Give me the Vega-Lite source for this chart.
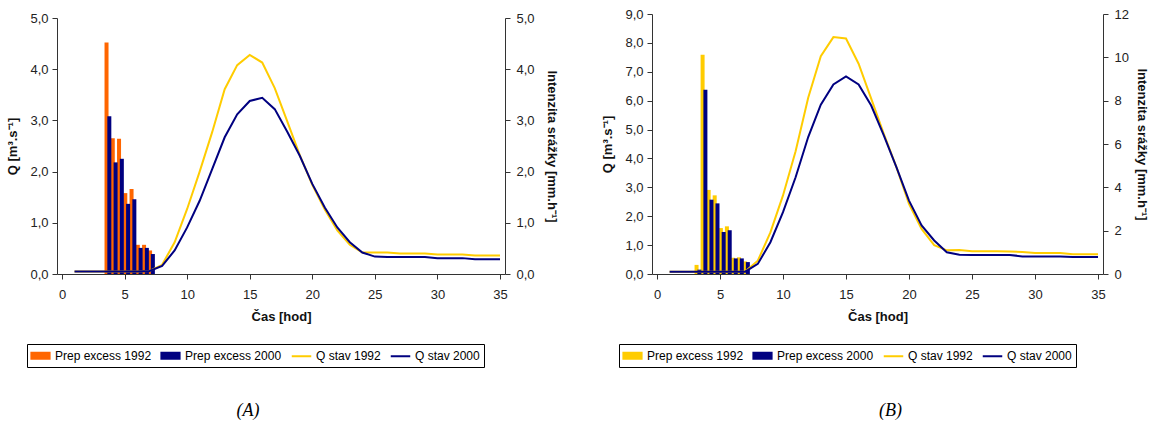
{
  "$schema": "https://vega.github.io/schema/vega-lite/v6.json",
  "padding": {"left": 6, "top": 8, "right": 0, "bottom": 0},
  "background": "white",
  "spacing": 43,
  "config": {
    "view": {"stroke": null},
    "font": "Liberation Sans",
    "axis": {"grid": false, "domainColor": "#333333", "tickColor": "#333333", "labelColor": "#222222", "labelFont": "Liberation Sans", "labelFontSize": 13, "titleFont": "Liberation Sans", "titleFontSize": 13, "titleFontWeight": "bold", "titleColor": "#111111", "tickSize": 5}
  },
  "datasets": {
    "barsA": [
      {"t": 3.67, "series": "Prep excess 1992", "v": 4.52}, {"t": 3.67, "series": "Prep excess 2000", "v": 3.08},
      {"t": 4.17, "series": "Prep excess 1992", "v": 2.65}, {"t": 4.17, "series": "Prep excess 2000", "v": 2.18},
      {"t": 4.67, "series": "Prep excess 1992", "v": 2.64}, {"t": 4.67, "series": "Prep excess 2000", "v": 2.25},
      {"t": 5.17, "series": "Prep excess 1992", "v": 1.58}, {"t": 5.17, "series": "Prep excess 2000", "v": 1.37},
      {"t": 5.67, "series": "Prep excess 1992", "v": 1.66}, {"t": 5.67, "series": "Prep excess 2000", "v": 1.46},
      {"t": 6.17, "series": "Prep excess 1992", "v": 0.57}, {"t": 6.17, "series": "Prep excess 2000", "v": 0.51},
      {"t": 6.67, "series": "Prep excess 1992", "v": 0.57}, {"t": 6.67, "series": "Prep excess 2000", "v": 0.51},
      {"t": 7.15, "series": "Prep excess 1992", "v": 0.46}, {"t": 7.15, "series": "Prep excess 2000", "v": 0.39}
    ],
    "barsB": [
      {"t": 3.25, "series": "Prep excess 1992", "v": 0.42}, {"t": 3.25, "series": "Prep excess 2000", "v": 0.2},
      {"t": 3.73, "series": "Prep excess 1992", "v": 10.12}, {"t": 3.73, "series": "Prep excess 2000", "v": 8.5},
      {"t": 4.21, "series": "Prep excess 1992", "v": 3.88}, {"t": 4.21, "series": "Prep excess 2000", "v": 3.43},
      {"t": 4.69, "series": "Prep excess 1992", "v": 3.63}, {"t": 4.69, "series": "Prep excess 2000", "v": 3.26},
      {"t": 5.18, "series": "Prep excess 1992", "v": 2.12}, {"t": 5.18, "series": "Prep excess 2000", "v": 1.94},
      {"t": 5.66, "series": "Prep excess 1992", "v": 2.2}, {"t": 5.66, "series": "Prep excess 2000", "v": 2.02},
      {"t": 6.14, "series": "Prep excess 1992", "v": 0.75}, {"t": 6.14, "series": "Prep excess 2000", "v": 0.72},
      {"t": 6.62, "series": "Prep excess 1992", "v": 0.77}, {"t": 6.62, "series": "Prep excess 2000", "v": 0.72},
      {"t": 7.1, "series": "Prep excess 1992", "v": 0.58}, {"t": 7.1, "series": "Prep excess 2000", "v": 0.55}
    ],
    "linesA": [
      {"t": 1, "series": "Q stav 1992", "q": 0.05}, {"t": 2, "series": "Q stav 1992", "q": 0.05}, {"t": 3, "series": "Q stav 1992", "q": 0.05}, {"t": 4, "series": "Q stav 1992", "q": 0.05}, {"t": 5, "series": "Q stav 1992", "q": 0.05}, {"t": 6, "series": "Q stav 1992", "q": 0.05}, {"t": 7, "series": "Q stav 1992", "q": 0.06},
      {"t": 8, "series": "Q stav 1992", "q": 0.18}, {"t": 9, "series": "Q stav 1992", "q": 0.62}, {"t": 10, "series": "Q stav 1992", "q": 1.27}, {"t": 11, "series": "Q stav 1992", "q": 2.0}, {"t": 12, "series": "Q stav 1992", "q": 2.77}, {"t": 13, "series": "Q stav 1992", "q": 3.61}, {"t": 14, "series": "Q stav 1992", "q": 4.08},
      {"t": 15, "series": "Q stav 1992", "q": 4.28}, {"t": 16, "series": "Q stav 1992", "q": 4.13}, {"t": 17, "series": "Q stav 1992", "q": 3.63}, {"t": 18, "series": "Q stav 1992", "q": 2.98}, {"t": 19, "series": "Q stav 1992", "q": 2.32}, {"t": 20, "series": "Q stav 1992", "q": 1.74}, {"t": 21, "series": "Q stav 1992", "q": 1.26},
      {"t": 22, "series": "Q stav 1992", "q": 0.85}, {"t": 23, "series": "Q stav 1992", "q": 0.57}, {"t": 24, "series": "Q stav 1992", "q": 0.42}, {"t": 25, "series": "Q stav 1992", "q": 0.42}, {"t": 26, "series": "Q stav 1992", "q": 0.42}, {"t": 27, "series": "Q stav 1992", "q": 0.4}, {"t": 28, "series": "Q stav 1992", "q": 0.4},
      {"t": 29, "series": "Q stav 1992", "q": 0.4}, {"t": 30, "series": "Q stav 1992", "q": 0.38}, {"t": 31, "series": "Q stav 1992", "q": 0.38}, {"t": 32, "series": "Q stav 1992", "q": 0.38}, {"t": 33, "series": "Q stav 1992", "q": 0.36}, {"t": 34, "series": "Q stav 1992", "q": 0.36}, {"t": 35, "series": "Q stav 1992", "q": 0.36},
      {"t": 1, "series": "Q stav 2000", "q": 0.05}, {"t": 2, "series": "Q stav 2000", "q": 0.05}, {"t": 3, "series": "Q stav 2000", "q": 0.05}, {"t": 4, "series": "Q stav 2000", "q": 0.05}, {"t": 5, "series": "Q stav 2000", "q": 0.05}, {"t": 6, "series": "Q stav 2000", "q": 0.05}, {"t": 7, "series": "Q stav 2000", "q": 0.06},
      {"t": 8, "series": "Q stav 2000", "q": 0.16}, {"t": 9, "series": "Q stav 2000", "q": 0.46}, {"t": 10, "series": "Q stav 2000", "q": 0.91}, {"t": 11, "series": "Q stav 2000", "q": 1.43}, {"t": 12, "series": "Q stav 2000", "q": 2.05}, {"t": 13, "series": "Q stav 2000", "q": 2.67}, {"t": 14, "series": "Q stav 2000", "q": 3.12},
      {"t": 15, "series": "Q stav 2000", "q": 3.38}, {"t": 16, "series": "Q stav 2000", "q": 3.44}, {"t": 17, "series": "Q stav 2000", "q": 3.22}, {"t": 18, "series": "Q stav 2000", "q": 2.78}, {"t": 19, "series": "Q stav 2000", "q": 2.31}, {"t": 20, "series": "Q stav 2000", "q": 1.76}, {"t": 21, "series": "Q stav 2000", "q": 1.3},
      {"t": 22, "series": "Q stav 2000", "q": 0.91}, {"t": 23, "series": "Q stav 2000", "q": 0.62}, {"t": 24, "series": "Q stav 2000", "q": 0.42}, {"t": 25, "series": "Q stav 2000", "q": 0.34}, {"t": 26, "series": "Q stav 2000", "q": 0.33}, {"t": 27, "series": "Q stav 2000", "q": 0.33}, {"t": 28, "series": "Q stav 2000", "q": 0.33},
      {"t": 29, "series": "Q stav 2000", "q": 0.33}, {"t": 30, "series": "Q stav 2000", "q": 0.31}, {"t": 31, "series": "Q stav 2000", "q": 0.31}, {"t": 32, "series": "Q stav 2000", "q": 0.31}, {"t": 33, "series": "Q stav 2000", "q": 0.29}, {"t": 34, "series": "Q stav 2000", "q": 0.29}, {"t": 35, "series": "Q stav 2000", "q": 0.29}
    ],
    "linesB": [
      {"t": 1, "series": "Q stav 1992", "q": 0.08}, {"t": 2, "series": "Q stav 1992", "q": 0.08}, {"t": 3, "series": "Q stav 1992", "q": 0.08}, {"t": 4, "series": "Q stav 1992", "q": 0.08}, {"t": 5, "series": "Q stav 1992", "q": 0.08}, {"t": 6, "series": "Q stav 1992", "q": 0.08}, {"t": 7, "series": "Q stav 1992", "q": 0.09},
      {"t": 8, "series": "Q stav 1992", "q": 0.46}, {"t": 9, "series": "Q stav 1992", "q": 1.44}, {"t": 10, "series": "Q stav 1992", "q": 2.72}, {"t": 11, "series": "Q stav 1992", "q": 4.25}, {"t": 12, "series": "Q stav 1992", "q": 6.1}, {"t": 13, "series": "Q stav 1992", "q": 7.54}, {"t": 14, "series": "Q stav 1992", "q": 8.2},
      {"t": 15, "series": "Q stav 1992", "q": 8.15}, {"t": 16, "series": "Q stav 1992", "q": 7.28}, {"t": 17, "series": "Q stav 1992", "q": 6.07}, {"t": 18, "series": "Q stav 1992", "q": 4.85}, {"t": 19, "series": "Q stav 1992", "q": 3.7}, {"t": 20, "series": "Q stav 1992", "q": 2.43}, {"t": 21, "series": "Q stav 1992", "q": 1.56},
      {"t": 22, "series": "Q stav 1992", "q": 1.0}, {"t": 23, "series": "Q stav 1992", "q": 0.82}, {"t": 24, "series": "Q stav 1992", "q": 0.83}, {"t": 25, "series": "Q stav 1992", "q": 0.79}, {"t": 26, "series": "Q stav 1992", "q": 0.79}, {"t": 27, "series": "Q stav 1992", "q": 0.79}, {"t": 28, "series": "Q stav 1992", "q": 0.78},
      {"t": 29, "series": "Q stav 1992", "q": 0.76}, {"t": 30, "series": "Q stav 1992", "q": 0.73}, {"t": 31, "series": "Q stav 1992", "q": 0.73}, {"t": 32, "series": "Q stav 1992", "q": 0.73}, {"t": 33, "series": "Q stav 1992", "q": 0.68}, {"t": 34, "series": "Q stav 1992", "q": 0.68}, {"t": 35, "series": "Q stav 1992", "q": 0.68},
      {"t": 1, "series": "Q stav 2000", "q": 0.08}, {"t": 2, "series": "Q stav 2000", "q": 0.08}, {"t": 3, "series": "Q stav 2000", "q": 0.08}, {"t": 4, "series": "Q stav 2000", "q": 0.08}, {"t": 5, "series": "Q stav 2000", "q": 0.08}, {"t": 6, "series": "Q stav 2000", "q": 0.08}, {"t": 7, "series": "Q stav 2000", "q": 0.08},
      {"t": 8, "series": "Q stav 2000", "q": 0.35}, {"t": 9, "series": "Q stav 2000", "q": 1.1}, {"t": 10, "series": "Q stav 2000", "q": 2.14}, {"t": 11, "series": "Q stav 2000", "q": 3.35}, {"t": 12, "series": "Q stav 2000", "q": 4.74}, {"t": 13, "series": "Q stav 2000", "q": 5.86}, {"t": 14, "series": "Q stav 2000", "q": 6.56},
      {"t": 15, "series": "Q stav 2000", "q": 6.84}, {"t": 16, "series": "Q stav 2000", "q": 6.56}, {"t": 17, "series": "Q stav 2000", "q": 5.83}, {"t": 18, "series": "Q stav 2000", "q": 4.8}, {"t": 19, "series": "Q stav 2000", "q": 3.7}, {"t": 20, "series": "Q stav 2000", "q": 2.54}, {"t": 21, "series": "Q stav 2000", "q": 1.68},
      {"t": 22, "series": "Q stav 2000", "q": 1.16}, {"t": 23, "series": "Q stav 2000", "q": 0.75}, {"t": 24, "series": "Q stav 2000", "q": 0.67}, {"t": 25, "series": "Q stav 2000", "q": 0.66}, {"t": 26, "series": "Q stav 2000", "q": 0.66}, {"t": 27, "series": "Q stav 2000", "q": 0.66}, {"t": 28, "series": "Q stav 2000", "q": 0.66},
      {"t": 29, "series": "Q stav 2000", "q": 0.61}, {"t": 30, "series": "Q stav 2000", "q": 0.61}, {"t": 31, "series": "Q stav 2000", "q": 0.61}, {"t": 32, "series": "Q stav 2000", "q": 0.61}, {"t": 33, "series": "Q stav 2000", "q": 0.59}, {"t": 34, "series": "Q stav 2000", "q": 0.59}, {"t": 35, "series": "Q stav 2000", "q": 0.59}
    ]
  },
  "hconcat": [
    {
      "width": 448,
      "height": 260,
      "title": {"text": "(A)", "orient": "bottom", "anchor": "middle", "dx": -33, "offset": 34, "font": "Liberation Serif", "fontSize": 18, "fontStyle": "italic", "fontWeight": "normal", "color": "black"},
      "layer": [
        {
          "layer": [
            {
              "data": {"name": "barsA"},
              "transform": [{"filter": "datum.series === 'Prep excess 1992'"}],
              "mark": {"type": "bar", "size": 4, "xOffset": -1.4},
              "encoding": {
                "x": {"field": "t", "type": "quantitative", "scale": {"domain": [0, 35], "nice": false}, "axis": {"values": [0, 5, 10, 15, 20, 25, 30, 35], "format": "d", "title": "Čas [hod]", "labelPadding": 9, "titlePadding": 9}},
                "y": {"field": "v", "type": "quantitative", "scale": {"domain": [0, 5], "range": [260, 4], "nice": false}, "axis": {"orient": "right", "title": "Intenzita srážky [mm.h⁻¹]", "values": [0, 1, 2, 3, 4, 5], "labelExpr": "replace(format(datum.value, '.1f'), '.', ',')", "labelPadding": 6, "titlePadding": 10}},
                "color": {
                  "field": "series", "type": "nominal",
                  "scale": {"domain": ["Prep excess 1992", "Prep excess 2000", "Q stav 1992", "Q stav 2000"], "range": ["#FF6600", "#000080", "#FFCC00", "#000080"]},
                  "legend": {
                    "orient": "none", "legendX": -30, "legendY": 330, "direction": "horizontal", "columns": 4, "title": null,
                    "strokeColor": "black", "padding": 4, "labelFontSize": 12, "labelFont": "Liberation Sans", "labelColor": "black", "labelOffset": 7, "columnPadding": 5,
                    "symbolSize": 169, "symbolStrokeWidth": 2, "symbolOffset": 2,
                    "encode": {"symbols": {"update": {
                      "shape": {"signal": "datum.index >= 2 ? 'M-1.5,0H1.5' : 'M-1.4,-0.46H1.4V0.46H-1.4Z'"},
                      "fill": {"signal": "datum.index === 0 ? '#FF6600' : datum.index === 1 ? '#000080' : 'transparent'"},
                      "stroke": {"signal": "datum.index === 0 ? '#FF9A1A' : datum.index === 2 ? '#FFCC00' : '#000080'"}
                    }}}
                  }
                }
              }
            },
            {
              "data": {"name": "barsA"},
              "transform": [{"filter": "datum.series === 'Prep excess 2000'"}],
              "mark": {"type": "bar", "size": 4, "xOffset": 1.4},
              "encoding": {
                "x": {"field": "t", "type": "quantitative"},
                "y": {"field": "v", "type": "quantitative"},
                "color": {"field": "series", "type": "nominal"}
              }
            }
          ]
        },
        {
          "data": {"name": "linesA"},
          "mark": {"type": "line", "strokeWidth": 2},
          "encoding": {
            "x": {"field": "t", "type": "quantitative"},
            "y": {"field": "q", "type": "quantitative", "scale": {"domain": [0, 5], "range": [260, 4], "nice": false}, "axis": {"orient": "left", "title": "Q [m³.s⁻¹]", "values": [0, 1, 2, 3, 4, 5], "labelExpr": "replace(format(datum.value, '.1f'), '.', ',')", "labelPadding": 4, "titlePadding": 10}},
            "color": {"field": "series", "type": "nominal"}
          }
        }
      ],
      "resolve": {"scale": {"y": "independent"}}
    },
    {
      "width": 451,
      "height": 260,
      "title": {"text": "(B)", "orient": "bottom", "anchor": "middle", "dx": 13, "offset": 34, "font": "Liberation Serif", "fontSize": 18, "fontStyle": "italic", "fontWeight": "normal", "color": "black"},
      "layer": [
        {
          "layer": [
            {
              "data": {"name": "barsB"},
              "transform": [{"filter": "datum.series === 'Prep excess 1992'"}],
              "mark": {"type": "bar", "size": 4, "xOffset": -1.4},
              "encoding": {
                "x": {"field": "t", "type": "quantitative", "scale": {"domain": [0, 35], "nice": false}, "axis": {"values": [0, 5, 10, 15, 20, 25, 30, 35], "format": "d", "title": "Čas [hod]", "labelPadding": 9, "titlePadding": 9}},
                "y": {"field": "v", "type": "quantitative", "scale": {"domain": [0, 12], "nice": false}, "axis": {"orient": "right", "title": "Intenzita srážky [mm.h⁻¹]", "values": [0, 2, 4, 6, 8, 10, 12], "format": "d", "labelPadding": 6, "titlePadding": 6}},
                "color": {
                  "field": "series", "type": "nominal",
                  "scale": {"domain": ["Prep excess 1992", "Prep excess 2000", "Q stav 1992", "Q stav 2000"], "range": ["#FFCC00", "#000080", "#FFCC00", "#000080"]},
                  "legend": {
                    "orient": "none", "legendX": -33, "legendY": 330, "direction": "horizontal", "columns": 4, "title": null,
                    "strokeColor": "black", "padding": 4, "labelFontSize": 12, "labelFont": "Liberation Sans", "labelColor": "black", "labelOffset": 7, "columnPadding": 5,
                    "symbolSize": 169, "symbolStrokeWidth": 2, "symbolOffset": 2,
                    "encode": {"symbols": {"update": {
                      "shape": {"signal": "datum.index >= 2 ? 'M-1.5,0H1.5' : 'M-1.4,-0.46H1.4V0.46H-1.4Z'"},
                      "fill": {"signal": "datum.index === 0 ? '#FFCC00' : datum.index === 1 ? '#000080' : 'transparent'"},
                      "stroke": {"signal": "datum.index === 0 || datum.index === 2 ? '#FFCC00' : '#000080'"}
                    }}}
                  }
                }
              }
            },
            {
              "data": {"name": "barsB"},
              "transform": [{"filter": "datum.series === 'Prep excess 2000'"}],
              "mark": {"type": "bar", "size": 4, "xOffset": 1.4},
              "encoding": {
                "x": {"field": "t", "type": "quantitative"},
                "y": {"field": "v", "type": "quantitative"},
                "color": {"field": "series", "type": "nominal"}
              }
            }
          ]
        },
        {
          "data": {"name": "linesB"},
          "mark": {"type": "line", "strokeWidth": 2},
          "encoding": {
            "x": {"field": "t", "type": "quantitative"},
            "y": {"field": "q", "type": "quantitative", "scale": {"domain": [0, 9], "nice": false}, "axis": {"orient": "left", "title": "Q [m³.s⁻¹]", "values": [0, 1, 2, 3, 4, 5, 6, 7, 8, 9], "labelExpr": "replace(format(datum.value, '.1f'), '.', ',')", "labelPadding": 4, "titlePadding": 10}},
            "color": {"field": "series", "type": "nominal"}
          }
        }
      ],
      "resolve": {"scale": {"y": "independent"}}
    }
  ],
  "resolve": {"scale": {"color": "independent", "x": "independent", "y": "independent"}, "legend": {"color": "independent"}}
}
